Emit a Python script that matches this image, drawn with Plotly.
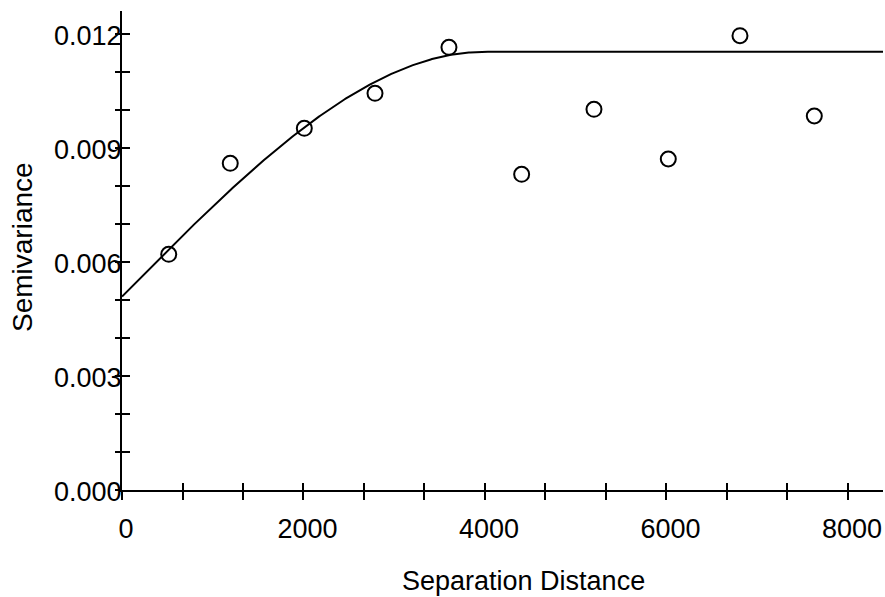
import numpy as np
import plotly.graph_objects as go

# Experimental semivariogram: lag distance vs. semivariance
lag_distance = [515, 1193, 2009, 2788, 3603, 4404, 5201, 6020, 6810, 7629]
semivariance = [0.006203, 0.008597, 0.009518, 0.010439, 0.011650,
                0.008308, 0.010018, 0.008711, 0.011955, 0.009842]

# Fitted spherical model parameters
NUGGET = 0.00509
PARTIAL_SILL = 0.00644
RANGE_A = 3990.0

x_tick_vals = [0, 2000, 4000, 6000, 8000]
x_tick_text = ["0", "2000", "4000", "6000", "8000"]
y_tick_vals = [0.0, 0.003, 0.006, 0.009, 0.012]
y_tick_text = ["0.000", "0.003", "0.006", "0.009", "0.012"]

X_MAX = 8386
Y_MAX = 0.012605


def spherical(h):
    r = np.clip(np.asarray(h, dtype=float) / RANGE_A, 0, 1)
    return NUGGET + PARTIAL_SILL * (1.5 * r - 0.5 * r ** 3)


h_model = np.linspace(0, X_MAX, 600)
gamma_model = spherical(h_model)

FONT = "Liberation Sans, Arial, sans-serif"

fig = go.Figure()
fig.add_trace(go.Scatter(
    x=h_model, y=gamma_model, mode="lines",
    line=dict(color="black", width=2), hoverinfo="skip", showlegend=False,
))
fig.add_trace(go.Scatter(
    x=lag_distance, y=semivariance, mode="markers",
    marker=dict(symbol="circle-open", size=15, color="black",
                line=dict(color="black", width=2)),
    showlegend=False, xaxis="x2", yaxis="y2",
))

fig.update_layout(
    width=885, height=597,
    margin=dict(l=122, r=2, t=11, b=107),
    paper_bgcolor="white", plot_bgcolor="white",
    font=dict(family=FONT, color="black", size=27),
    xaxis=dict(
        range=[0, X_MAX], showgrid=False, zeroline=False,
        showline=True, linecolor="black", linewidth=2,
        ticks="outside", ticklen=8, tickwidth=2, tickcolor="black",
        tickvals=x_tick_vals, ticktext=x_tick_text,
        tickfont=dict(size=27, family=FONT),
        ticklabelshift=4, ticklabelstandoff=6,
        minor=dict(tickmode="linear", tick0=0, dtick=2000 / 3,
                   ticks="outside", ticklen=8, tickwidth=2,
                   tickcolor="black", showgrid=False),
    ),
    yaxis=dict(
        range=[0, Y_MAX], showgrid=False, zeroline=False,
        showline=True, linecolor="black", linewidth=2,
        ticks="outside", ticklen=5, tickwidth=2, tickcolor="black",
        tickvals=y_tick_vals, ticktext=y_tick_text,
        tickfont=dict(size=27, family=FONT),
        ticklabelstandoff=-12, ticklabelshift=2,
        minor=dict(tickmode="linear", tick0=0, dtick=0.001,
                   ticks="outside", ticklen=5, tickwidth=2,
                   tickcolor="black", showgrid=False),
    ),
    xaxis2=dict(
        overlaying="x", anchor="y2", range=[0, X_MAX],
        showgrid=False, zeroline=False, showline=False,
        showticklabels=False, ticks="inside", ticklen=7, tickwidth=2,
        tickcolor="black", tickmode="linear", tick0=0, dtick=2000 / 3,
    ),
    yaxis2=dict(
        overlaying="y", anchor="x2", range=[0, Y_MAX],
        showgrid=False, zeroline=False, showline=False,
        showticklabels=False, ticks="inside", ticklen=8, tickwidth=2,
        tickcolor="black", tickmode="linear", tick0=0, dtick=0.001,
    ),
    annotations=[
        dict(text="Separation Distance", xref="paper", yref="paper",
             x=0.527, y=-0.19, xanchor="center", yanchor="middle",
             showarrow=False, font=dict(size=27, family=FONT)),
        dict(text="Semivariance", xref="paper", yref="paper",
             x=-0.1307, y=0.5063, xanchor="center", yanchor="middle",
             textangle=-90, showarrow=False,
             font=dict(size=28, family=FONT)),
    ],
)

fig.write_html("out.html")
